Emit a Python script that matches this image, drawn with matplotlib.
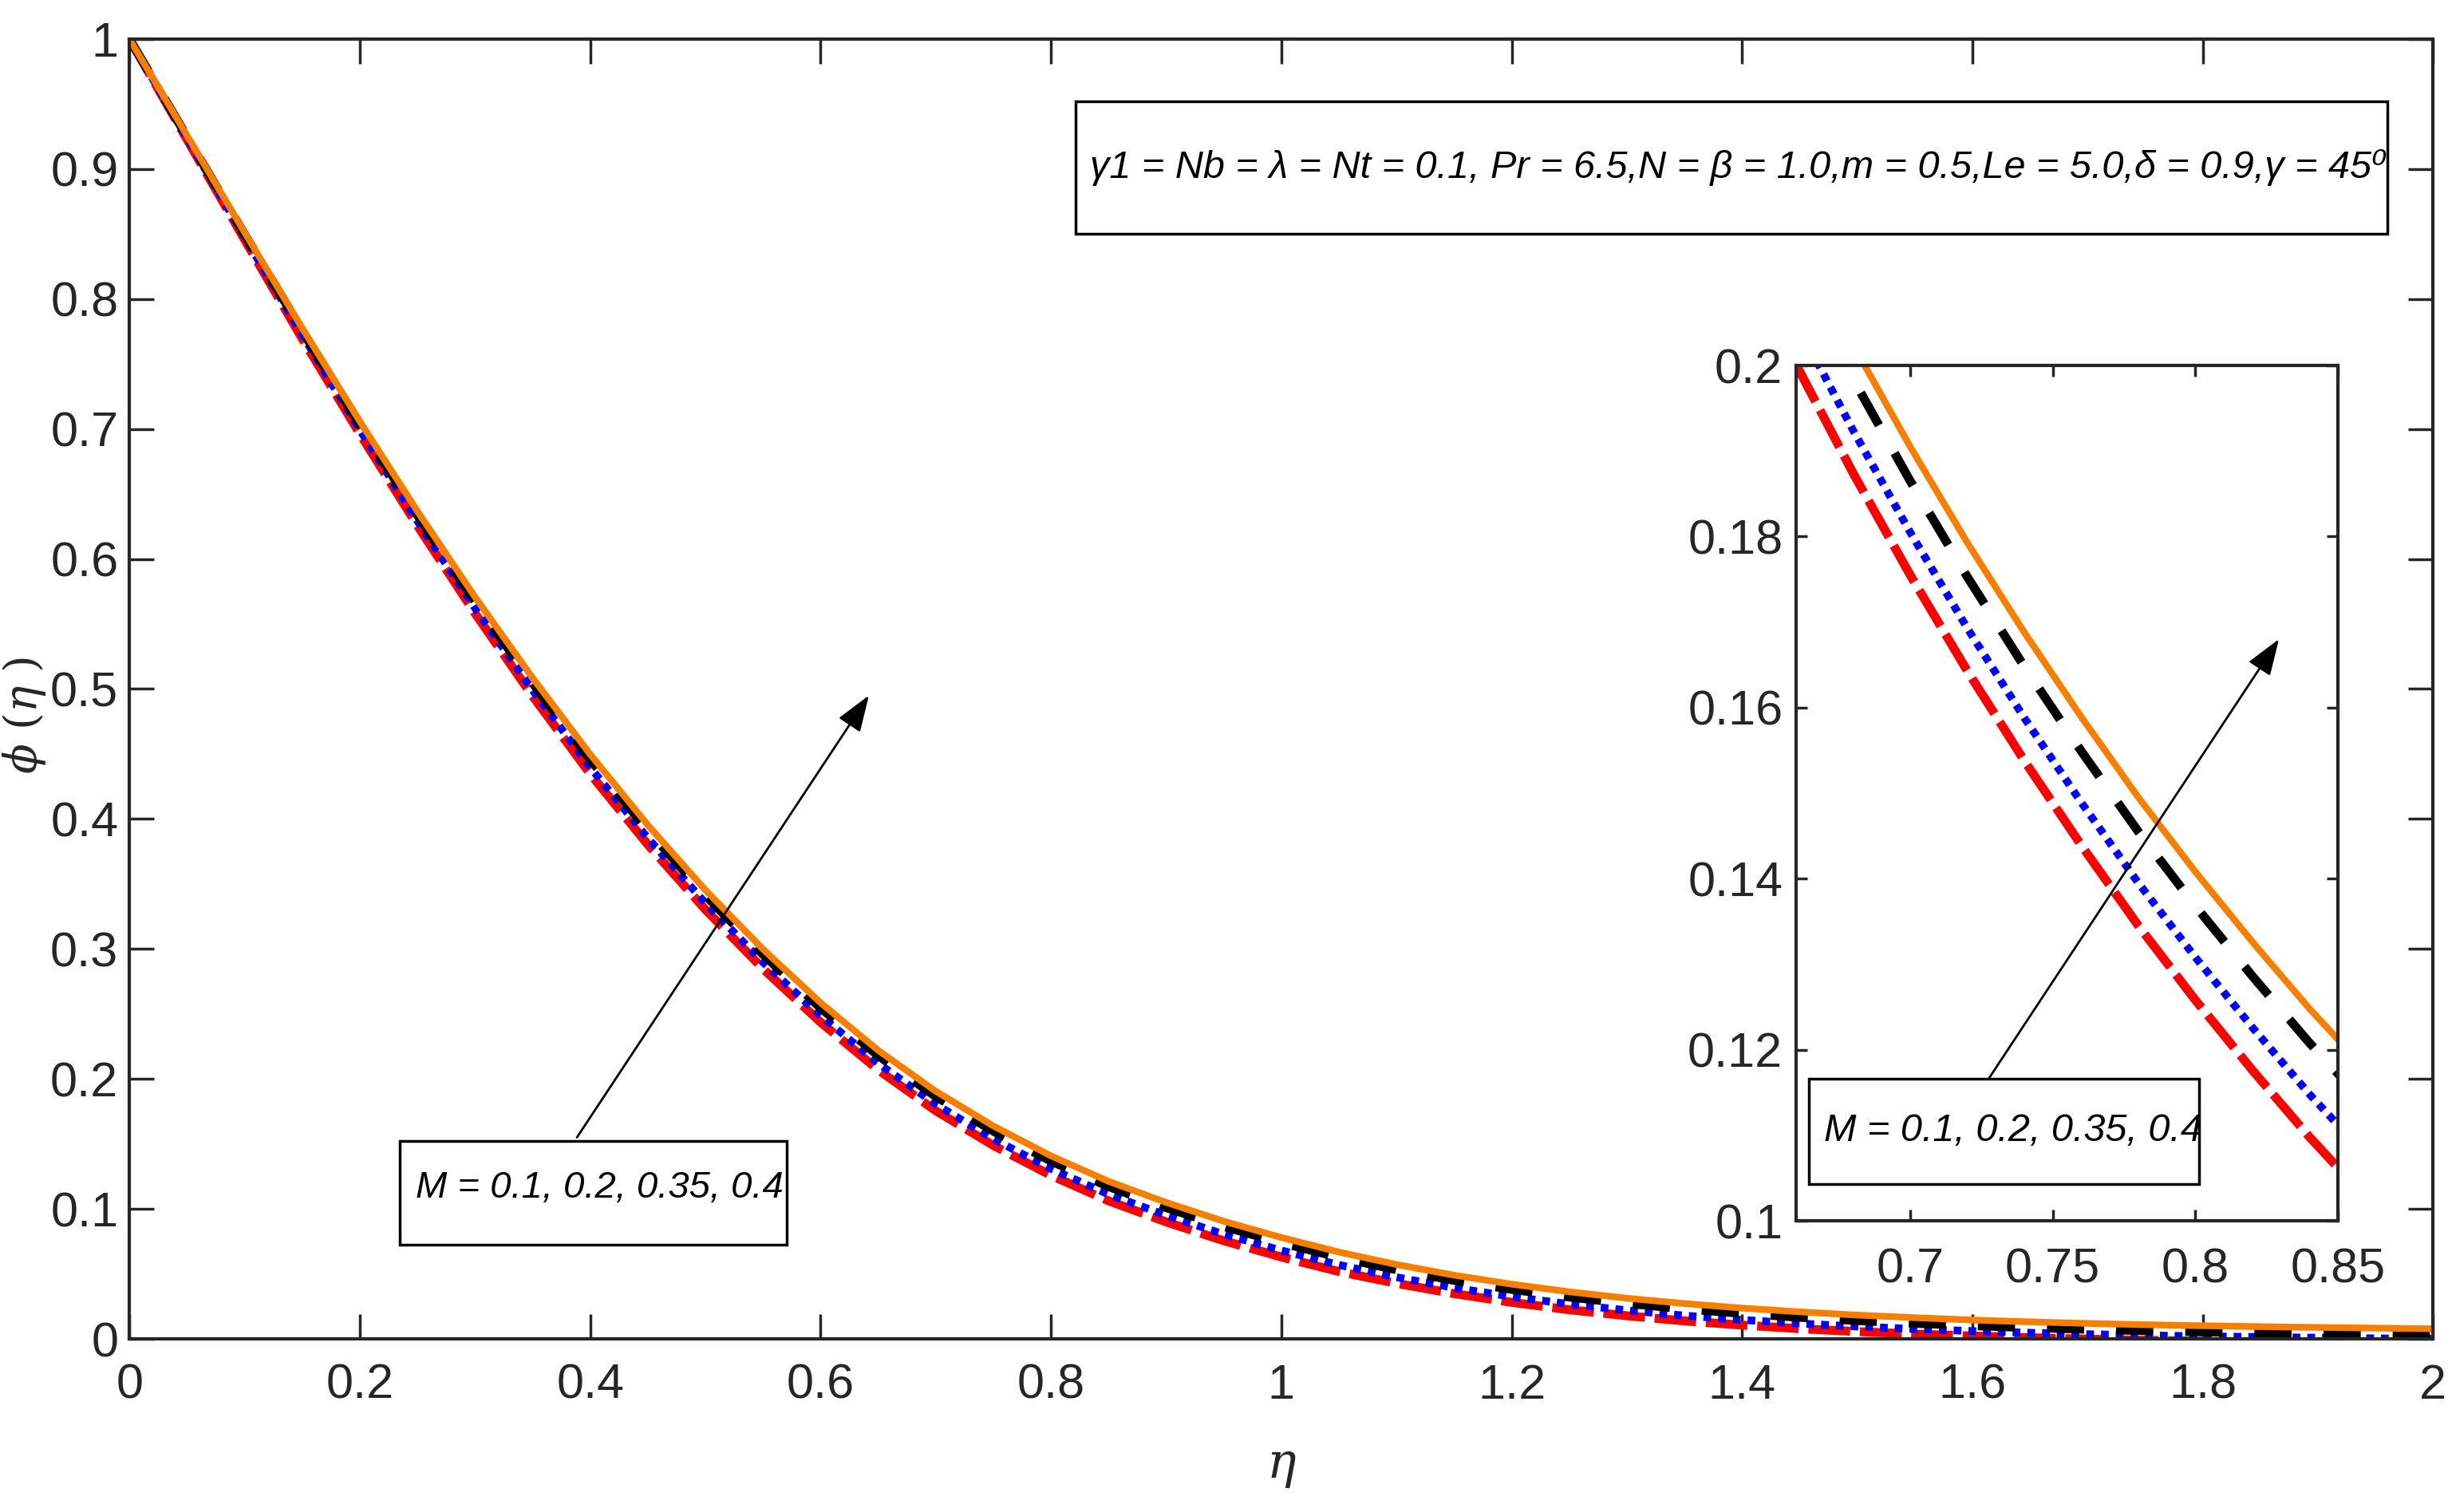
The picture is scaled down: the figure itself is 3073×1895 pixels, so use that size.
import matplotlib
matplotlib.use('Agg')
import matplotlib.pyplot as plt
from matplotlib import ticker
from matplotlib.patches import Rectangle

# данные кривых phi(eta) для M = 0.1, 0.2, 0.35, 0.4
eta = [0.0, 0.05, 0.10, 0.15, 0.20, 0.25, 0.30, 0.35, 0.40, 0.45,
       0.50, 0.55, 0.60, 0.65, 0.70, 0.75, 0.80, 0.85, 0.90, 0.95,
       1.00, 1.05, 1.10, 1.15, 1.20, 1.25, 1.30, 1.35, 1.40, 1.45,
       1.50, 1.55, 1.60, 1.65, 1.70, 1.75, 1.80, 1.85, 1.90, 1.95, 2.00]

phi_m01 = [1.0, 0.9227, 0.8456, 0.7695, 0.6963, 0.6257, 0.5582, 0.4945, 0.4347, 0.3803,
           0.3303, 0.2848, 0.2436, 0.2070, 0.1755, 0.1488, 0.1258, 0.1062, 0.0900, 0.0755,
           0.0630, 0.0518, 0.0427, 0.0348, 0.0281, 0.0224, 0.0178, 0.0138, 0.0106, 0.0078,
           0.0056, 0.0037, 0.0022, 0.0009, -0.0002, -0.0011, -0.0018, -0.0025, -0.0031, -0.0037, -0.0042]

phi_m02 = [1.0, 0.9237, 0.8476, 0.7725, 0.6993, 0.6292, 0.5622, 0.4990, 0.4397, 0.3853,
           0.3353, 0.2898, 0.2486, 0.2120, 0.1805, 0.1538, 0.1308, 0.1112, 0.0950, 0.0805,
           0.0680, 0.0569, 0.0474, 0.0393, 0.0325, 0.0267, 0.0220, 0.0179, 0.0146, 0.0118,
           0.0095, 0.0076, 0.0060, 0.0047, 0.0036, 0.0027, 0.0020, 0.0014, 0.0009, 0.0004, 0.0000]

phi_m035 = [1.0, 0.9247, 0.8496, 0.7755, 0.7033, 0.6337, 0.5672, 0.5045, 0.4457, 0.3913,
            0.3413, 0.2958, 0.2546, 0.2180, 0.1865, 0.1598, 0.1368, 0.1172, 0.1010, 0.0865,
            0.0740, 0.0628, 0.0532, 0.0450, 0.0381, 0.0322, 0.0273, 0.0231, 0.0196, 0.0166,
            0.0141, 0.0120, 0.0102, 0.0087, 0.0074, 0.0063, 0.0054, 0.0046, 0.0039, 0.0033, 0.0028]

phi_m04 = [1.0, 0.9257, 0.8511, 0.7775, 0.7058, 0.6367, 0.5707, 0.5085, 0.4497, 0.3953,
           0.3453, 0.2998, 0.2586, 0.2220, 0.1905, 0.1638, 0.1408, 0.1212, 0.1050, 0.0905,
           0.0780, 0.0668, 0.0572, 0.0490, 0.0421, 0.0362, 0.0313, 0.0272, 0.0237, 0.0208,
           0.0183, 0.0163, 0.0145, 0.0131, 0.0119, 0.0109, 0.0101, 0.0094, 0.0088, 0.0083, 0.0078]

# врезка: те же кривые, считанные подробнее на участке 0.66..0.86
eta_zoom = [0.66, 0.68, 0.70, 0.72, 0.74, 0.76, 0.78, 0.80, 0.82, 0.84, 0.86]
zoom_m01 = [0.2001, 0.1874, 0.1755, 0.1643, 0.1538, 0.1439, 0.1345, 0.1258, 0.1176, 0.1098, 0.1026]
zoom_m02 = [0.2051, 0.1924, 0.1805, 0.1693, 0.1588, 0.1489, 0.1395, 0.1308, 0.1226, 0.1148, 0.1076]
zoom_m035 = [0.2111, 0.1984, 0.1865, 0.1753, 0.1648, 0.1549, 0.1455, 0.1368, 0.1286, 0.1208, 0.1136]
zoom_m04 = [0.2151, 0.2024, 0.1905, 0.1793, 0.1688, 0.1589, 0.1495, 0.1408, 0.1326, 0.1248, 0.1176]

main_xticks = [0, 0.2, 0.4, 0.6, 0.8, 1.0, 1.2, 1.4, 1.6, 1.8, 2.0]
main_yticks = [0, 0.1, 0.2, 0.3, 0.4, 0.5, 0.6, 0.7, 0.8, 0.9, 1.0]
inset_xticks = [0.7, 0.75, 0.8, 0.85]
inset_yticks = [0.1, 0.12, 0.14, 0.16, 0.18, 0.2]

params_text = 'γ1 = Nb = λ = Nt = 0.1, Pr = 6.5,N = β = 1.0,m = 0.5,Le = 5.0,δ = 0.9,γ = 45⁰'
m_text = 'M = 0.1, 0.2, 0.35, 0.4'

plt.rcParams['font.family'] = ['Liberation Sans', 'DejaVu Sans']
plt.rcParams['axes.linewidth'] = 3
plt.rcParams['mathtext.fontset'] = 'dejavuserif'

dark = '#262626'
orange = '#f77f00'


def draw_lines(ax, x, y1, y2, y3, y4):
    ax.plot(x, y1, color='red', linewidth=8, dashes=(4.7, 1.1), dash_capstyle='butt')
    ax.plot(x, y2, color='blue', linewidth=7, dashes=(1.0, 0.9), dash_capstyle='butt')
    ax.plot(x, y3, color='black', linewidth=8, dashes=(4.2, 3.6), dash_capstyle='butt')
    ax.plot(x, y4, color=orange, linewidth=6, solid_capstyle='butt')


def style_axes(ax, tick_len, fsize, xpad, ypad):
    ax.tick_params(axis='both', which='major', direction='in', length=tick_len, width=2.5,
                   top=True, right=True, labelsize=fsize, colors=dark)
    ax.tick_params(axis='x', pad=xpad)
    ax.tick_params(axis='y', pad=ypad)
    for sp in ax.spines.values():
        sp.set_color(dark)
    ax.xaxis.set_major_formatter(ticker.FormatStrFormatter('%g'))
    ax.yaxis.set_major_formatter(ticker.FormatStrFormatter('%g'))


arrow_style = dict(arrowstyle='-|>,head_length=1.4,head_width=0.5',
                   color='black', lw=2, mutation_scale=20, shrinkA=0, shrinkB=0)

fig = plt.figure(figsize=(30.73, 18.95), dpi=100)

# основной график
ax = fig.add_axes([0.0528, 0.1145, 0.9395, 0.8597])
draw_lines(ax, eta, phi_m01, phi_m02, phi_m035, phi_m04)
ax.set_xlim(0, 2)
ax.set_ylim(0, 1)
ax.set_xticks(main_xticks)
ax.set_yticks(main_yticks)
style_axes(ax, 22, 44, 22, 10)
ax.set_xlabel(r'$\eta$', fontsize=44, color=dark, labelpad=32)
ax.set_ylabel(r'$\phi\ (\eta\ )$', fontsize=40, color=dark)
ax.yaxis.set_label_coords(-0.0355, 0.48)

ax.annotate('', xy=(0.642, 0.495), xytext=(0.3885, 0.155), arrowprops=arrow_style)

# рамка с параметрами
fig.patches.append(Rectangle((0.4387, 0.8454), 0.5349, 0.0876, transform=fig.transFigure,
                             fill=True, facecolor='white', edgecolor='black', lw=2.5))
fig.text(0.4446, 0.889, params_text, fontsize=35, style='italic', va='center', ha='left')

fig.patches.append(Rectangle((0.163, 0.1768), 0.158, 0.0686, transform=fig.transFigure,
                             fill=True, facecolor='white', edgecolor='black', lw=2.5))
fig.text(0.1695, 0.2142, m_text, fontsize=34, style='italic', va='center', ha='left')

# врезка
axin = fig.add_axes([0.7325, 0.1926, 0.221, 0.5657])
draw_lines(axin, eta_zoom, zoom_m01, zoom_m02, zoom_m035, zoom_m04)
axin.set_xlim(0.66, 0.85)
axin.set_ylim(0.1, 0.2)
axin.set_xticks(inset_xticks)
axin.set_yticks(inset_yticks)
style_axes(axin, 10, 44, 24, 12)

axin.annotate('', xy=(0.8293, 0.168), xytext=(0.7277, 0.1167), arrowprops=arrow_style)

fig.patches.append(Rectangle((0.7378, 0.2168), 0.1591, 0.0696, transform=fig.transFigure,
                             fill=True, facecolor='white', edgecolor='black', lw=2.5, zorder=5))
fig.text(0.744, 0.252, m_text, fontsize=35, style='italic', va='center', ha='left', zorder=6)

fig.savefig('out.png', dpi=100)
